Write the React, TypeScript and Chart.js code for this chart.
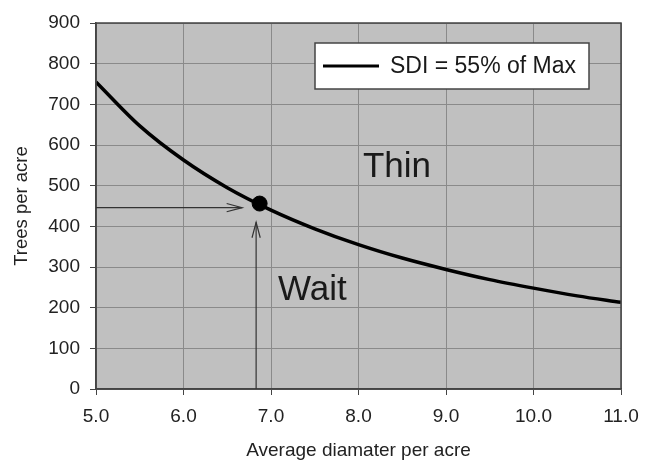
import React, { useEffect, useRef } from "react";
import { Chart, registerables } from "chart.js";

Chart.register(...registerables);

// Data
const diameters = [5.0, 5.5, 6.0, 6.5, 7.0, 7.5, 8.0, 8.5, 9.0, 9.5, 10.0, 10.5, 11.0];
const treesPerAcre = [755, 647, 563, 495, 440, 394, 355, 322, 294, 269, 248, 229, 213];
const markerPoint = [6.87, 456];
const horizontalArrow = [[5.0, 446], [6.67, 446]];
const verticalArrow = [[6.83, 0], [6.83, 410]];
const regionLabels = ["Thin", "Wait"];
const regionLabelPos = [[8.05, 521], [7.08, 219]];
const xTicks = [5, 6, 7, 8, 9, 10, 11];
const yTicks = [0, 100, 200, 300, 400, 500, 600, 700, 800, 900];
const seriesLabel = "SDI = 55% of Max";

const FONT = "'Liberation Sans', Arial, sans-serif";

const drawPlugin = {
  id: "sdiDecor",
  beforeDraw(chart: any) {
    const { ctx, chartArea: a } = chart;
    ctx.save();
    ctx.fillStyle = "#c0c0c0";
    ctx.fillRect(a.left, a.top, a.right - a.left, a.bottom - a.top);
    ctx.restore();
  },
  afterDatasetsDraw(chart: any) {
    const { ctx, chartArea: a, scales } = chart;
    const xs = scales.x, ys = scales.y;
    ctx.save();
    // plot border
    ctx.strokeStyle = "#444";
    ctx.lineWidth = 1.5;
    ctx.strokeRect(a.left, a.top, a.right - a.left, a.bottom - a.top);

    // arrows
    const arrow = (pts: number[][]) => {
      const x0 = xs.getPixelForValue(pts[0][0]);
      const y0 = ys.getPixelForValue(pts[0][1]);
      const x1 = xs.getPixelForValue(pts[1][0]);
      const y1 = ys.getPixelForValue(pts[1][1]);
      ctx.strokeStyle = "#333";
      ctx.lineWidth = 1.2;
      ctx.beginPath();
      ctx.moveTo(x0, y0);
      ctx.lineTo(x1, y1);
      ctx.stroke();
      const ang = Math.atan2(y1 - y0, x1 - x0);
      const len = 16;
      const spread = 0.26;
      ctx.beginPath();
      ctx.moveTo(x1 - len * Math.cos(ang - spread), y1 - len * Math.sin(ang - spread));
      ctx.lineTo(x1, y1);
      ctx.lineTo(x1 - len * Math.cos(ang + spread), y1 - len * Math.sin(ang + spread));
      ctx.stroke();
    };
    arrow(horizontalArrow);
    arrow(verticalArrow);

    // region labels
    ctx.fillStyle = "#1a1a1a";
    ctx.font = `35px ${FONT}`;
    ctx.textAlign = "left";
    ctx.textBaseline = "alphabetic";
    regionLabels.forEach((t, i) => {
      ctx.fillText(t, xs.getPixelForValue(regionLabelPos[i][0]), ys.getPixelForValue(regionLabelPos[i][1]));
    });

    // legend box
    const bw = 274, bh = 46;
    const bx = a.right - 32 - bw;
    const by = a.top + 20;
    ctx.fillStyle = "#ffffff";
    ctx.fillRect(bx, by, bw, bh);
    ctx.strokeStyle = "#444";
    ctx.lineWidth = 1.5;
    ctx.strokeRect(bx, by, bw, bh);
    ctx.strokeStyle = "#000";
    ctx.lineWidth = 3;
    ctx.beginPath();
    ctx.moveTo(bx + 8, by + bh / 2);
    ctx.lineTo(bx + 64, by + bh / 2);
    ctx.stroke();
    ctx.fillStyle = "#1a1a1a";
    ctx.font = `23px ${FONT}`;
    ctx.textBaseline = "middle";
    ctx.fillText(seriesLabel, bx + 75, by + bh / 2 + 1);
    ctx.restore();
  },
};

export default function App() {
  const ref = useRef<HTMLCanvasElement>(null);
  useEffect(() => {
    if (!ref.current) return;
    const chart = new Chart(ref.current, {
      type: "scatter",
      data: {
        datasets: [
          {
            label: seriesLabel,
            data: diameters.map((d, i) => ({ x: d, y: treesPerAcre[i] })),
            showLine: true,
            borderColor: "#000",
            borderWidth: 3.5,
            pointRadius: 0,
            cubicInterpolationMode: "monotone",
          },
          {
            label: "point",
            data: [{ x: markerPoint[0], y: markerPoint[1] }],
            pointRadius: 7.5,
            backgroundColor: "#000",
            borderColor: "#000",
          },
        ],
      },
      options: {
        animation: false,
        responsive: false,
        devicePixelRatio: 1,
        layout: { padding: { top: 23, right: 29, left: 0, bottom: 0 } },
        plugins: { legend: { display: false }, tooltip: { enabled: false } },
        scales: {
          x: {
            type: "linear",
            min: 5,
            max: 11,
            afterBuildTicks: (s: any) => { s.ticks = xTicks.map((v) => ({ value: v })); },
            afterFit: (s: any) => { s.height = 73; },
            ticks: {
              callback: (v: any) => Number(v).toFixed(1),
              font: { family: FONT, size: 19 },
              color: "#222",
              padding: 10,
              maxRotation: 0,
            },
            grid: { color: "#8a8a8a", lineWidth: 1, tickLength: 6, tickColor: "#444" },
            border: { display: true, color: "#444", width: 1.5 },
            title: {
              display: true,
              text: "Average diamater per acre",
              font: { family: FONT, size: 19 },
              color: "#222",
              padding: { top: 4, bottom: 0 },
            },
          },
          y: {
            type: "linear",
            min: 0,
            max: 900,
            afterBuildTicks: (s: any) => { s.ticks = yTicks.map((v) => ({ value: v })); },
            afterFit: (s: any) => { s.width = 96; },
            ticks: {
              font: { family: FONT, size: 19 },
              color: "#222",
              padding: 10,
            },
            grid: { color: "#8a8a8a", lineWidth: 1, tickLength: 6, tickColor: "#444" },
            border: { display: true, color: "#444", width: 1.5 },
            title: {
              display: true,
              text: "Trees per acre",
              font: { family: FONT, size: 18.5 },
              color: "#222",
              padding: { top: 11, bottom: 0 },
            },
          },
        },
      },
      plugins: [drawPlugin],
    } as any);
    return () => chart.destroy();
  }, []);
  return (
    <div style={{ position: "fixed", left: 0, top: 0, width: 650, height: 462, background: "#fff" }}>
      <canvas ref={ref} width={650} height={462} style={{ width: 650, height: 462, display: "block" }} />
    </div>
  );
}
